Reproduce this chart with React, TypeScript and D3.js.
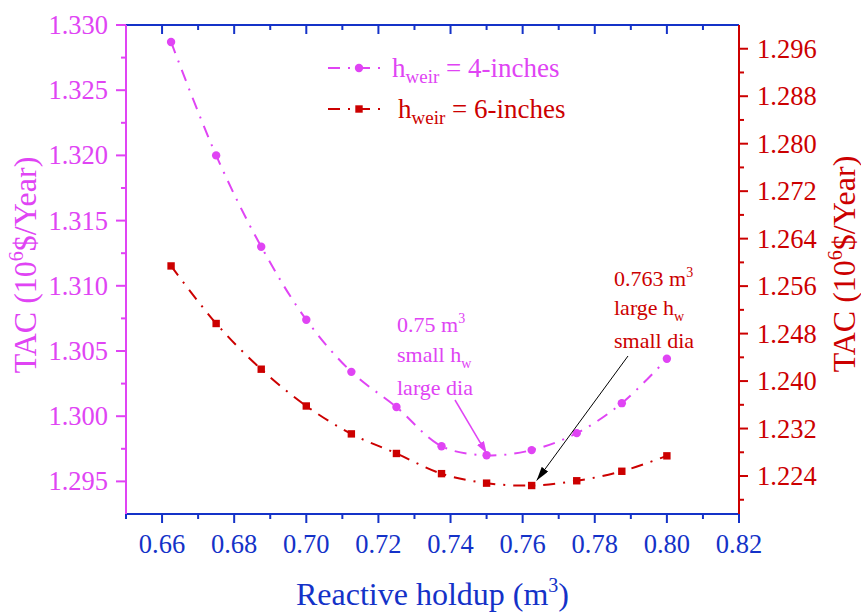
import React from "react";
import * as d3 from "d3";

// ---- data ----
const holdup = [0.6625, 0.675, 0.6875, 0.7, 0.7125, 0.725, 0.7375, 0.75, 0.7625, 0.775, 0.7875, 0.8];
const tacWeir4 = [1.3287, 1.32, 1.313, 1.3074, 1.3034, 1.3007, 1.2977, 1.297, 1.2974, 1.2987, 1.301, 1.3044];
const tacWeir6 = [1.2594, 1.2497, 1.242, 1.2358, 1.2311, 1.2278, 1.2244, 1.2228, 1.2224, 1.2232, 1.2248, 1.2274];
const xTickValues = [0.66, 0.68, 0.7, 0.72, 0.74, 0.76, 0.78, 0.8, 0.82];
const xMinorValues = [0.65, 0.67, 0.69, 0.71, 0.73, 0.75, 0.77, 0.79, 0.81];
const leftTickValues = [1.295, 1.3, 1.305, 1.31, 1.315, 1.32, 1.325, 1.33];
const leftMinorValues = [1.2975, 1.3025, 1.3075, 1.3125, 1.3175, 1.3225, 1.3275];
const rightTickValues = [1.224, 1.232, 1.24, 1.248, 1.256, 1.264, 1.272, 1.28, 1.288, 1.296];
const rightMinorValues = [1.22, 1.228, 1.236, 1.244, 1.252, 1.26, 1.268, 1.276, 1.284, 1.292];

const MAGENTA = "#E044F4";
const RED = "#CC0000";
const BLUE = "#1432C8";
const FONT = "Liberation Serif, Times New Roman, serif";

const W = 861;
const H = 612;
const L = 126, R = 739, T = 25, B = 514;

export default function App() {
  const x = d3.scaleLinear().domain([0.65, 0.82]).range([L, R]);
  const yL = d3.scaleLinear().domain([1.2925, 1.33]).range([B, T]);
  const yR = d3.scaleLinear().domain([1.2176, 1.3]).range([B, T]);

  const pts4 = holdup.map((h, i) => [x(h), yL(tacWeir4[i])] as [number, number]);
  const pts6 = holdup.map((h, i) => [x(h), yR(tacWeir6[i])] as [number, number]);
  const line = d3.line().curve(d3.curveCatmullRom.alpha(0.5));
  const dash = "12,8,2,8";

  const fmt3 = d3.format(".3f");
  const fmt2 = d3.format(".2f");

  // annotation arrow tips derived from data points
  const tipM = [x(0.75), yL(1.297) - 2];
  const tipK = [x(0.7625) + 5, yR(1.2224) - 5];

  return (
    <svg width={W} height={H} style={{ position: "absolute", left: 0, top: 0, background: "#fff" }} fontFamily={FONT}>
      <defs>
        <marker id="arrM" viewBox="0 0 12 8" refX="12" refY="4" markerWidth="12" markerHeight="8" markerUnits="userSpaceOnUse" orient="auto">
          <path d="M0,0 L12,4 L0,8 Z" fill={MAGENTA} />
        </marker>
        <marker id="arrK" viewBox="0 0 14 8" refX="14" refY="4" markerWidth="14" markerHeight="8" markerUnits="userSpaceOnUse" orient="auto">
          <path d="M0,0 L14,4 L0,8 Z" fill="#000" />
        </marker>
      </defs>

      {/* series lines */}
      <path d={line(pts4) || ""} fill="none" stroke={MAGENTA} strokeWidth={2} strokeDasharray={dash} />
      <path d={line(pts6) || ""} fill="none" stroke={RED} strokeWidth={2} strokeDasharray={dash} />
      {pts4.map((p, i) => (
        <circle key={"c" + i} cx={p[0]} cy={p[1]} r={4.2} fill={MAGENTA} />
      ))}
      {pts6.map((p, i) => (
        <rect key={"s" + i} x={p[0] - 3.7} y={p[1] - 3.7} width={7.4} height={7.4} fill={RED} />
      ))}

      {/* bottom & top axes */}
      <line x1={L} x2={R} y1={B} y2={B} stroke={BLUE} strokeWidth={2} />
      <line x1={L} x2={R} y1={T} y2={T} stroke={BLUE} strokeWidth={2} />
      {xTickValues.map((v) => (
        <g key={"xt" + v}>
          <line x1={x(v)} x2={x(v)} y1={B} y2={B + 9} stroke={BLUE} strokeWidth={2} />
          <line x1={x(v)} x2={x(v)} y1={T} y2={T + 9} stroke={BLUE} strokeWidth={2} />
          <text x={x(v)} y={B + 39} textAnchor="middle" fontFamily={FONT} fontSize={26.5} fill={BLUE}>{fmt2(v)}</text>
        </g>
      ))}
      {xMinorValues.map((v) => (
        <g key={"xm" + v}>
          <line x1={x(v)} x2={x(v)} y1={B} y2={B + 5} stroke={BLUE} strokeWidth={2} />
          <line x1={x(v)} x2={x(v)} y1={T} y2={T + 5} stroke={BLUE} strokeWidth={2} />
        </g>
      ))}

      {/* left axis */}
      <line x1={L} x2={L} y1={T} y2={B} stroke={MAGENTA} strokeWidth={2} />
      {leftTickValues.map((v) => (
        <g key={"lt" + v}>
          <line x1={L - 10} x2={L} y1={yL(v)} y2={yL(v)} stroke={MAGENTA} strokeWidth={2} />
          <text x={L - 18} y={yL(v) + 9} textAnchor="end" fontFamily={FONT} fontSize={26.5} fill={MAGENTA}>{fmt3(v)}</text>
        </g>
      ))}
      {leftMinorValues.map((v) => (
        <line key={"lm" + v} x1={L - 5} x2={L} y1={yL(v)} y2={yL(v)} stroke={MAGENTA} strokeWidth={2} />
      ))}

      {/* right axis */}
      <line x1={R} x2={R} y1={T} y2={B} stroke={RED} strokeWidth={2} />
      {rightTickValues.map((v) => (
        <g key={"rt" + v}>
          <line x1={R} x2={R + 9} y1={yR(v)} y2={yR(v)} stroke={RED} strokeWidth={2} />
          <text x={R + 18} y={yR(v) + 9} textAnchor="start" fontFamily={FONT} fontSize={26.5} fill={RED}>{fmt3(v)}</text>
        </g>
      ))}
      {rightMinorValues.map((v) => (
        <line key={"rm" + v} x1={R} x2={R + 5} y1={yR(v)} y2={yR(v)} stroke={RED} strokeWidth={2} />
      ))}

      {/* axis titles */}
      <text x={(L + R) / 2} y={605} textAnchor="middle" fontFamily={FONT} fontSize={32} fill={BLUE}>
        Reactive holdup (m<tspan dy={-13} fontSize={20}>3</tspan><tspan dy={13}>)</tspan>
      </text>
      <text transform={`translate(36,265) rotate(-90)`} textAnchor="middle" fontFamily={FONT} fontSize={32} fill={MAGENTA}>
        TAC (10<tspan dy={-13} fontSize={20}>6</tspan><tspan dy={13}>$/Year)</tspan>
      </text>
      <text transform={`translate(855,264) rotate(-90)`} textAnchor="middle" fontFamily={FONT} fontSize={32} fill={RED}>
        TAC (10<tspan dy={-13} fontSize={20}>6</tspan><tspan dy={13}>$/Year)</tspan>
      </text>

      {/* legend */}
      <line x1={328} x2={382} y1={68} y2={68} stroke={MAGENTA} strokeWidth={2} strokeDasharray={dash} />
      <circle cx={359} cy={68} r={4.2} fill={MAGENTA} />
      <text x={392} y={77} fontFamily={FONT} fontSize={27} fill={MAGENTA}>
        h<tspan dy={6} fontSize={19}>weir</tspan><tspan dy={-6}> = 4-inches</tspan>
      </text>
      <line x1={328} x2={382} y1={109} y2={109} stroke={RED} strokeWidth={2} strokeDasharray={dash} />
      <rect x={359 - 3.7} y={109 - 3.7} width={7.4} height={7.4} fill={RED} />
      <text x={398} y={118} fontFamily={FONT} fontSize={27} fill={RED}>
        h<tspan dy={6} fontSize={19}>weir</tspan><tspan dy={-6}> = 6-inches</tspan>
      </text>

      {/* annotations */}
      <text fontFamily={FONT} fontSize={22} fill={MAGENTA}>
        <tspan x={397} y={332}>0.75 m<tspan dy={-9} fontSize={14}>3</tspan></tspan>
        <tspan x={397} y={362}>small h<tspan dy={6} fontSize={14}>w</tspan></tspan>
        <tspan x={397} y={395}>large dia</tspan>
      </text>
      <line x1={455} y1={400} x2={tipM[0]} y2={tipM[1]} stroke={MAGENTA} strokeWidth={1.5} markerEnd="url(#arrM)" />

      <text fontFamily={FONT} fontSize={22} fill={RED}>
        <tspan x={614} y={286}>0.763 m<tspan dy={-9} fontSize={14}>3</tspan></tspan>
        <tspan x={614} y={315}>large h<tspan dy={6} fontSize={14}>w</tspan></tspan>
        <tspan x={614} y={348}>small dia</tspan>
      </text>
      <line x1={628} y1={356} x2={tipK[0]} y2={tipK[1]} stroke="#000" strokeWidth={1} markerEnd="url(#arrK)" />
    </svg>
  );
}
